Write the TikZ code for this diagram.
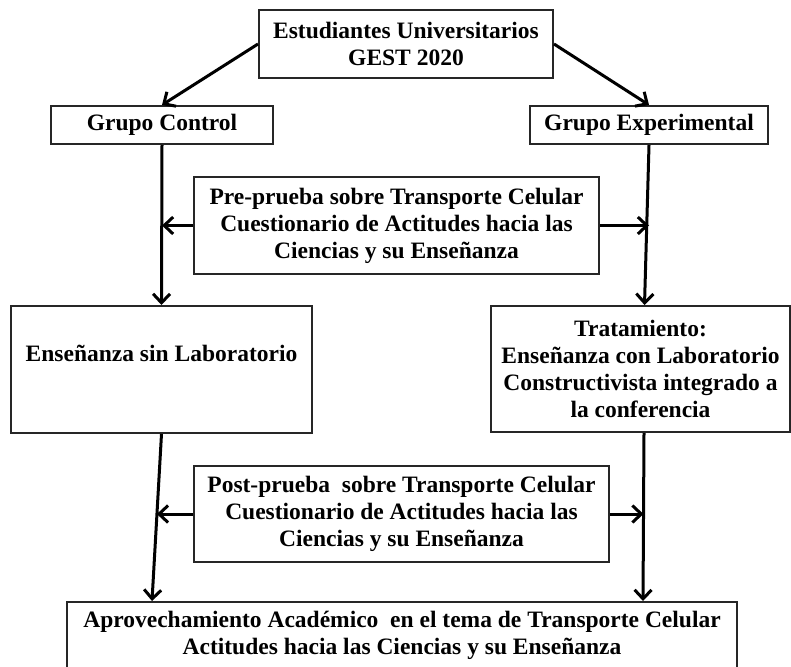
\documentclass[tikz,border=0pt]{standalone}
\usepackage{fontspec}
\setmainfont{Liberation Serif}
\usetikzlibrary{arrows.meta,calc}
\begin{document}
\begin{tikzpicture}[x=1pt,y=-1pt,
  box/.style={draw=black!85,line width=2pt,inner sep=0pt,align=center,
    font=\fontsize{23.5}{27}\selectfont\bfseries,text=black},
  arr/.style={line width=3pt,-{Straight Barb[length=9pt,width=17pt]}}]
\useasboundingbox (0,0) rectangle (791,666);
\node[box,minimum width=294,minimum height=68] (top) at (406,44) {Estudiantes Universitarios\\GEST 2020};
\node[box,minimum width=222,minimum height=38] (gc) at (162,125) {Grupo Control};
\node[box,minimum width=238,minimum height=38] (ge) at (649,125) {Grupo Experimental};
\node[box,minimum width=405,minimum height=97] (pre) at (396.5,225.5) {Pre-prueba sobre Transporte Celular\\Cuestionario de Actitudes hacia las\\Ciencias y su Enseñanza};
\node[draw=black!85,line width=2pt,inner sep=0pt,font=\fontsize{23.5}{27}\selectfont\bfseries,
  minimum width=301,text height=55,text depth=72] (sin) at (161.5,369.5) {Enseñanza sin Laboratorio};
\node[box,minimum width=299,minimum height=126] (trat) at (640.5,369) {Tratamiento:\\Enseñanza con Laboratorio\\Constructivista integrado a\\la conferencia};
\node[box,minimum width=415,minimum height=96] (post) at (401.5,514) {Post-prueba~ sobre Transporte Celular\\Cuestionario de Actitudes hacia las\\Ciencias y su Enseñanza};
\node[box,minimum width=670,minimum height=66] (bot) at (402,635) {Aprovechamiento Académico~ en el tema de Transporte Celular\\Actitudes hacia las Ciencias y su Enseñanza};
\coordinate (botL) at ($(bot.north west)+(86,0)$);
\coordinate (botR) at ($(bot.north east)+(-95,0)$);
\coordinate (tratN) at ($(trat.north)+(4,0)$);
\coordinate (tratS) at ($(trat.south)+(3.5,0)$);
\coordinate (lmid) at ($(sin.south)!0.49!(botL)$);
\coordinate (rmid) at ($(tratS)!0.49!(botR)$);
\draw[arr] (top.west) -- (gc.north);
\draw[arr] (top.east) -- (ge.north);
\draw[arr] (gc.south) -- (sin.north);
\draw[arr] (ge.south) -- (tratN);
\draw[arr] (pre.west) -- (pre.west -| gc.south);
\draw[arr] (pre.east) -- (pre.east -| ge.south);
\draw[arr] (sin.south) -- (botL);
\draw[arr] (tratS) -- (botR);
\draw[arr] (post.west) -- (post.west -| lmid);
\draw[arr] (post.east) -- (post.east -| rmid);
\end{tikzpicture}
\end{document}
